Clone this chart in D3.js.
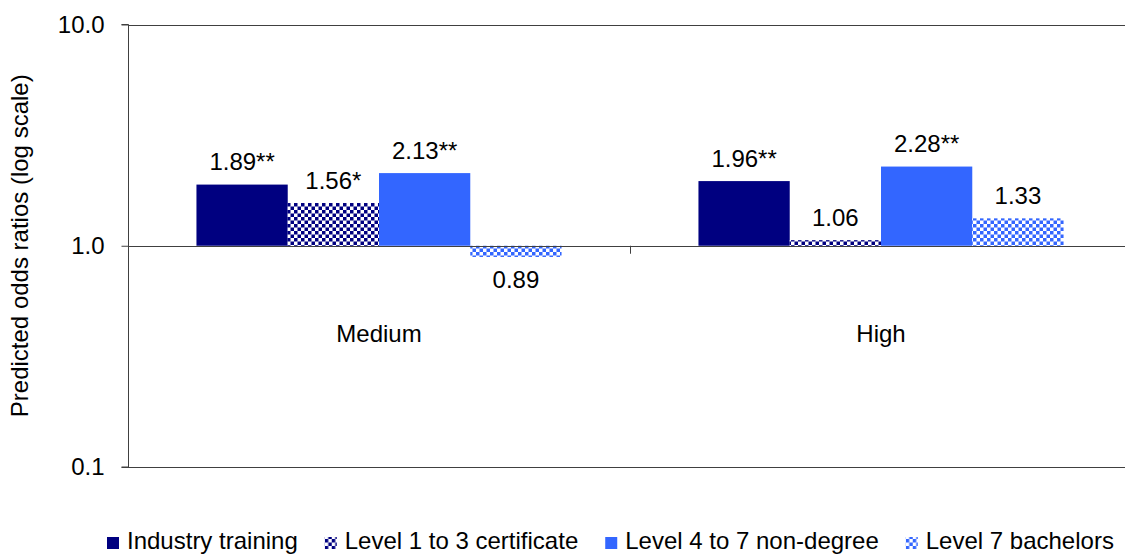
<!DOCTYPE html>
<html>
<head>
<meta charset="utf-8">
<script src="https://cdn.jsdelivr.net/npm/d3@7/dist/d3.min.js"></script>
<style>
  html, body { margin: 0; padding: 0; background: #fff; }
  svg text { font-family: "Liberation Sans", Arial, sans-serif; fill: #000; }
</style>
</head>
<body>
<svg id="chart" width="1125" height="554"></svg>
<script>
// Predicted odds ratios by group and qualification type
const categories = ["Medium", "High"];
const series = ["Industry training", "Level 1 to 3 certificate", "Level 4 to 7 non-degree", "Level 7 bachelors"];
const mediumValues = [1.89, 1.56, 2.13, 0.89];
const highValues = [1.96, 1.06, 2.28, 1.33];
const mediumStars = ["**", "*", "**", ""];
const highStars = ["**", "", "**", ""];
const yTicks = [0.1, 1, 10];
const yTitle = "Predicted odds ratios (log scale)";

const valuesByCategory = { Medium: mediumValues, High: highValues };
const starsByCategory = { Medium: mediumStars, High: highStars };

const svg = d3.select("#chart");
const plotLeft = 128, plotRight = 1132, plotTop = 24.5, plotBottom = 467;
const fontSize = 24;

const x = d3.scaleBand().domain(categories).range([plotLeft, plotRight]);
const barW = x.bandwidth() / 5.5;
const xs = d3.scaleBand().domain(series).range([0.75 * barW, 4.75 * barW]);
const y = d3.scaleLog().domain([0.1, 10]).range([plotBottom, plotTop]);

// Fill styles: solid or checkerboard
const defs = svg.append("defs");
function checker(id, color) {
  const c = 3.5;
  const p = defs.append("pattern").attr("id", id)
    .attr("patternUnits", "userSpaceOnUse").attr("width", 2 * c).attr("height", 2 * c);
  p.append("rect").attr("width", 2 * c).attr("height", 2 * c).attr("fill", "#fff");
  p.append("rect").attr("x", 0).attr("y", 0).attr("width", c).attr("height", c).attr("fill", color);
  p.append("rect").attr("x", c).attr("y", c).attr("width", c).attr("height", c).attr("fill", color);
}
checker("chkNavy", "#000080");
checker("chkBlue", "#3366FF");
const fills = ["#000080", "url(#chkNavy)", "#3366FF", "url(#chkBlue)"];

// Horizontal rules at each decade
svg.append("g").selectAll("line").data(yTicks).join("line")
  .attr("x1", plotLeft).attr("x2", plotRight)
  .attr("y1", d => Math.round(y(d)) + 0.5).attr("y2", d => Math.round(y(d)) + 0.5)
  .attr("stroke", "#404040").attr("stroke-width", 1);

// Bars grow from 1.0
const rows = [];
categories.forEach(c => series.forEach((s, i) => rows.push({
  cat: c, ser: s, i, v: valuesByCategory[c][i], star: starsByCategory[c][i]
})));

svg.append("g").selectAll("rect").data(rows).join("rect")
  .attr("x", d => x(d.cat) + xs(d.ser))
  .attr("width", xs.bandwidth())
  .attr("y", d => Math.min(y(d.v), y(1)))
  .attr("height", d => Math.abs(y(d.v) - y(1)))
  .attr("fill", d => fills[d.i]);

// Value labels
svg.append("g").selectAll("text").data(rows).join("text")
  .attr("x", d => x(d.cat) + xs(d.ser) + xs.bandwidth() / 2)
  .attr("y", d => d.v >= 1 ? y(d.v) - 14.5 : y(d.v) + 31.5)
  .attr("text-anchor", "middle")
  .attr("font-size", fontSize)
  .text(d => d3.format(".2f")(d.v) + d.star);

// Category axis crossing at 1.0
const xAxis = svg.append("g");
xAxis.append("line")
  .attr("x1", plotLeft).attr("x2", plotRight)
  .attr("y1", Math.round(y(1)) + 0.5).attr("y2", Math.round(y(1)) + 0.5)
  .attr("stroke", "#404040");
xAxis.append("line")
  .attr("x1", x("High") + 0.5).attr("x2", x("High") + 0.5)
  .attr("y1", y(1)).attr("y2", y(1) + 8)
  .attr("stroke", "#404040");
xAxis.selectAll("text").data(categories).join("text")
  .attr("x", d => x(d) + x.bandwidth() / 2)
  .attr("y", 341.5)
  .attr("text-anchor", "middle")
  .attr("font-size", fontSize)
  .text(d => d);

// Value axis
const yAxis = d3.axisLeft(y).tickValues(yTicks).tickSize(7).tickPadding(17)
  .tickFormat(d3.format(".1f"));
const gy = svg.append("g").attr("transform", `translate(${plotLeft + 0.5},0)`).call(yAxis);
gy.select(".domain").attr("stroke", "#404040").attr("d", `M-7,${plotTop}H0V${plotBottom}H-7`);
gy.selectAll(".tick line").attr("stroke", "#404040");
gy.selectAll(".tick text").attr("font-size", fontSize)
  .attr("font-family", '"Liberation Sans", Arial, sans-serif').attr("fill", "#000");

svg.append("text")
  .attr("transform", `translate(28,${(plotTop + plotBottom) / 2}) rotate(-90)`)
  .attr("text-anchor", "middle")
  .attr("font-size", fontSize)
  .text(yTitle);

// Legend: swatch + label, laid out left to right from measured label widths
const legend = svg.append("g").attr("transform", "translate(107,0)");
let cursor = 0;
series.forEach((s, i) => {
  const item = legend.append("g").attr("transform", `translate(${cursor},0)`);
  item.append("rect").attr("y", 537).attr("width", 12).attr("height", 12).attr("fill", fills[i]);
  const t = item.append("text").attr("x", 20).attr("y", 548.5).attr("font-size", fontSize).text(s);
  cursor += 20 + t.node().getComputedTextLength() + 27;
});
</script>
</body>
</html>
